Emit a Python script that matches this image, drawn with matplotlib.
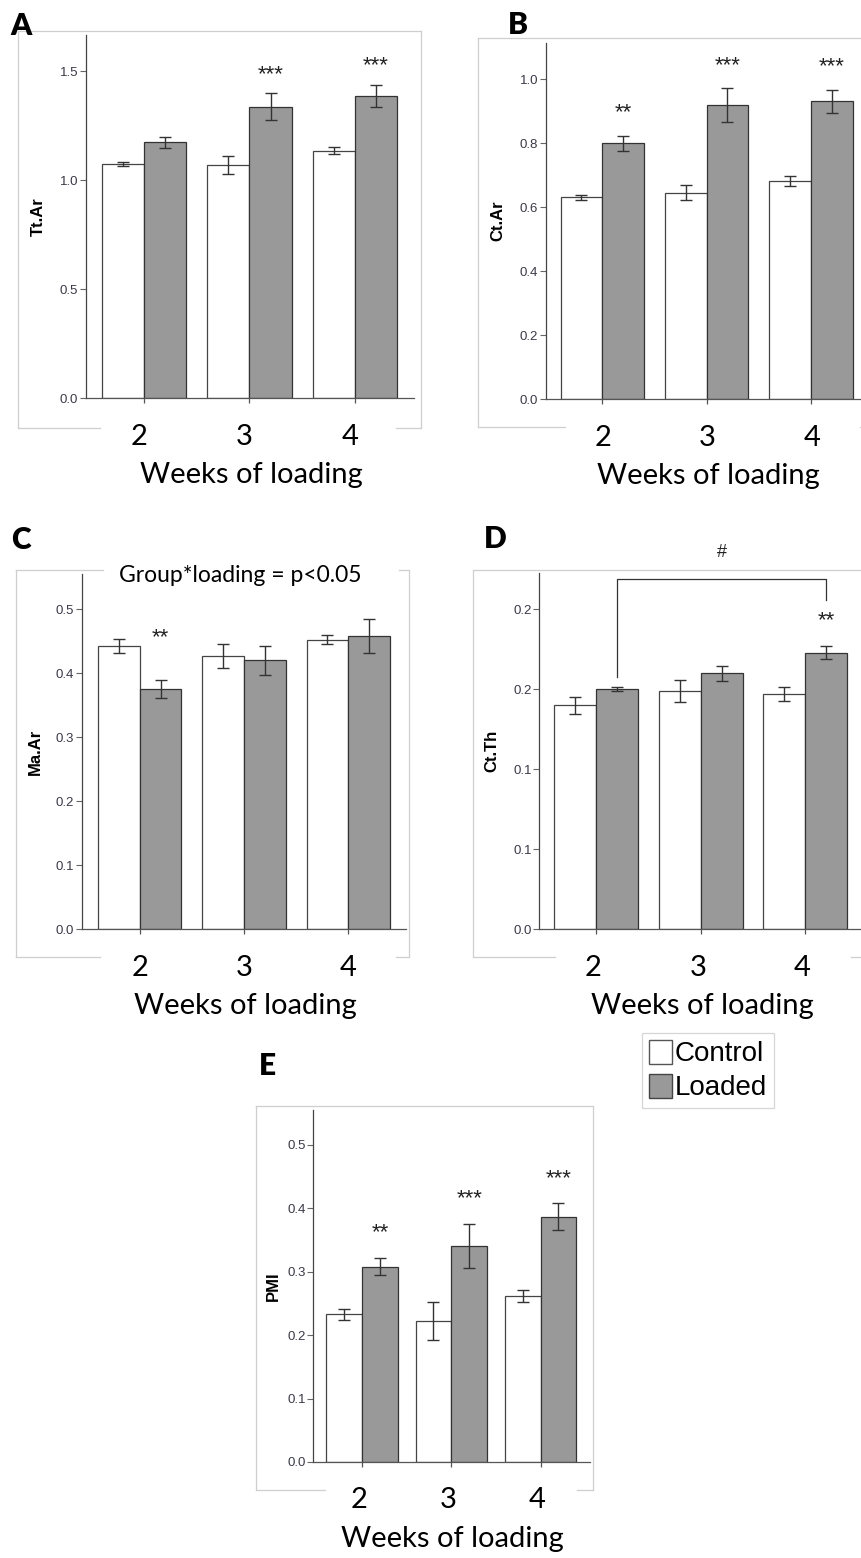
import matplotlib
matplotlib.use("Agg")

import numpy as np
import matplotlib.pyplot as plt
from matplotlib.lines import Line2D
from matplotlib.patches import Patch

W, H = 862, 1558

weeks = ["2", "3", "4"]

# panel A - Tt.Ar
tt_ar_control = [1.075, 1.070, 1.136]
tt_ar_control_err = [0.010, 0.041, 0.017]
tt_ar_loaded = [1.174, 1.338, 1.387]
tt_ar_loaded_err = [0.024, 0.061, 0.052]
tt_ar_stars = ["", "***", "***"]

# panel B - Ct.Ar
ct_ar_control = [0.630, 0.645, 0.682]
ct_ar_control_err = [0.009, 0.024, 0.016]
ct_ar_loaded = [0.799, 0.918, 0.930]
ct_ar_loaded_err = [0.024, 0.053, 0.037]
ct_ar_stars = ["**", "***", "***"]

# panel C - Ma.Ar
ma_ar_control = [0.443, 0.427, 0.452]
ma_ar_control_err = [0.011, 0.019, 0.007]
ma_ar_loaded = [0.376, 0.420, 0.458]
ma_ar_loaded_err = [0.014, 0.023, 0.027]
ma_ar_stars = ["**", "", ""]

# panel D - Ct.Th
ct_th_control = [0.140, 0.149, 0.147]
ct_th_control_err = [0.0052, 0.0071, 0.0042]
ct_th_loaded = [0.150, 0.160, 0.173]
ct_th_loaded_err = [0.0013, 0.0048, 0.0042]
ct_th_stars = ["", "", "**"]

# panel E - PMI
pmi_control = [0.233, 0.223, 0.261]
pmi_control_err = [0.0084, 0.030, 0.0095]
pmi_loaded = [0.308, 0.341, 0.387]
pmi_loaded_err = [0.0137, 0.0347, 0.021]
pmi_stars = ["**", "***", "***"]

BIG = ["Lato", "DejaVu Sans"]
SMALL = ["Liberation Sans", "DejaVu Sans"]
FRAME = "#cfcfcf"
GRAY = "#999999"

fig = plt.figure(figsize=(W / 100, H / 100), dpi=100)


def fx(x):
    return x / W


def fy(y):
    return 1 - y / H


def hline(x0, x1, y):
    fig.add_artist(Line2D([fx(x0), fx(x1)], [fy(y), fy(y)], color=FRAME, lw=0.9))


def vline(x, y0, y1):
    fig.add_artist(Line2D([fx(x), fx(x)], [fy(y0), fy(y1)], color=FRAME, lw=0.9))


def frame(x0, y0, x1, y1, bottom_gap, top_gap=None):
    vline(x0, y0, y1)
    vline(x1, y0, y1)
    if top_gap:
        hline(x0, top_gap[0], y0)
        hline(top_gap[1], x1, y0)
    else:
        hline(x0, x1, y0)
    hline(x0, bottom_gap[0], y1)
    hline(bottom_gap[1], x1, y1)


def panel(box, xc0, sp, ytop_val, ctrl, ctrl_err, load, load_err,
          yticks, yticklabels, ylabel, ylabel_x, stars, star_off, tick_dx):
    x0, x1, ytop, ybot = box
    ax = fig.add_axes([fx(x0), fy(ybot), (x1 - x0) / W, (ybot - ytop) / H])
    ax.set_xlim((x0 - xc0) / sp, (x1 - xc0) / sp)
    ax.set_ylim(0, ytop_val)
    ax.patch.set_alpha(0)
    x = np.arange(len(weeks))
    bw = 0.4
    ax.bar(x - bw / 2, ctrl, bw, color="white", edgecolor="#444444", linewidth=0.9, zorder=2)
    ax.bar(x + bw / 2, load, bw, color=GRAY, edgecolor="#333333", linewidth=0.9, zorder=2)
    ax.errorbar(x - bw / 2, ctrl, yerr=ctrl_err, fmt="none", ecolor="#333333",
                elinewidth=1.0, capsize=4.5, capthick=1.0, zorder=3)
    ax.errorbar(x + bw / 2, load, yerr=load_err, fmt="none", ecolor="#333333",
                elinewidth=1.0, capsize=4.5, capthick=1.0, zorder=3)
    for s in ["top", "right"]:
        ax.spines[s].set_visible(False)
    ax.spines["left"].set_color("#444444")
    ax.spines["bottom"].set_color("#555555")
    ax.spines["left"].set_linewidth(0.9)
    ax.spines["bottom"].set_linewidth(0.9)
    ax.set_yticks(yticks)
    ax.set_yticklabels(yticklabels, fontfamily=SMALL, fontsize=9.5, color="#3a3a48")
    ax.tick_params(axis="y", length=4.3, width=0.8, color="#666666", pad=1.2)
    ax.set_xticks(x)
    ax.set_xticklabels([])
    ax.tick_params(axis="x", length=3.8, width=0.9, color="#555555")
    for i, w in enumerate(weeks):
        ax.annotate(w, (i, 0), xycoords=("data", "axes fraction"),
                    xytext=(tick_dx * 0.72, -38.5 * 0.72), textcoords="offset points",
                    ha="center", va="center", fontfamily=BIG, fontsize=21,
                    annotation_clip=False)
    ax.annotate("Weeks of loading", (1, 0), xycoords=("data", "axes fraction"),
                xytext=(1, -77 * 0.72), textcoords="offset points",
                ha="center", va="center", fontfamily=BIG, fontsize=21,
                annotation_clip=False)
    ax.text((ylabel_x - x0) / (x1 - x0), 0.5, ylabel, transform=ax.transAxes,
            rotation=90, ha="center", va="center", fontfamily=SMALL,
            fontweight="bold", fontsize=12)
    for i, s in enumerate(stars):
        if s:
            top = load[i] + load_err[i]
            if star_off < 5:
                top = max(top, ctrl[i] + ctrl_err[i])
            ax.annotate(s, (i + bw / 2, top), xytext=(0, star_off * 0.72),
                        textcoords="offset points", ha="center", va="center",
                        fontfamily=SMALL, fontsize=16, color="#222222",
                        annotation_clip=False)
    return ax


# panel frames
frame(18, 31, 421, 428, (100, 396))
frame(478, 38, 875, 427, (565, 860))
frame(15.7, 570, 409, 957, (100, 396), top_gap=(103, 399))
frame(472.7, 570, 875, 957.3, (555, 851))
frame(256, 1106, 593.3, 1490, (325, 577))

panel((86, 414, 35, 398.3), 144, 105.5, 1.667,
      tt_ar_control, tt_ar_control_err, tt_ar_loaded, tt_ar_loaded_err,
      [0, 0.5, 1.0, 1.5], ["0.0", "0.5", "1.0", "1.5"], "Tt.Ar", 38.3,
      tt_ar_stars, 19, -5)

panel((545.7, 870, 43, 399), 602.3, 104.3, 1.1125,
      ct_ar_control, ct_ar_control_err, ct_ar_loaded, ct_ar_loaded_err,
      [0, 0.2, 0.4, 0.6, 0.8, 1.0], ["0.0", "0.2", "0.4", "0.6", "0.8", "1.0"],
      "Ct.Ar", 498.3, ct_ar_stars, 23, 1)

axc = panel((82, 406, 574, 929.3), 139.7, 104.3, 0.555,
            ma_ar_control, ma_ar_control_err, ma_ar_loaded, ma_ar_loaded_err,
            [0, 0.1, 0.2, 0.3, 0.4, 0.5], ["0.0", "0.1", "0.2", "0.3", "0.4", "0.5"],
            "Ma.Ar", 35.5, ma_ar_stars, 1, 0)

axd = panel((539.3, 870, 573.3, 929.3), 596.3, 104.5, 0.2225,
            ct_th_control, ct_th_control_err, ct_th_loaded, ct_th_loaded_err,
            [0, 0.05, 0.10, 0.15, 0.20], ["0.0", "0.1", "0.1", "0.2", "0.2"],
            "Ct.Th", 491.7, ct_th_stars, 25, -3)

panel((313.3, 590, 1110, 1462), 362, 89.3, 0.555,
      pmi_control, pmi_control_err, pmi_loaded, pmi_loaded_err,
      [0, 0.1, 0.2, 0.3, 0.4, 0.5], ["0.0", "0.1", "0.2", "0.3", "0.4", "0.5"],
      "PMI", 273.3, pmi_stars, 25, -3)

# bracket in D between week 2 and week 4 loaded bars
axd.plot([0.2, 0.2, 2.2, 2.2], [0.158, 0.219, 0.219, 0.206], color="#333333",
         lw=0.9, clip_on=False)
axd.text(1.2, 0.2355, "#", ha="center", va="center", fontfamily=SMALL,
         fontsize=13, color="#222222")

fig.text(fx(240), fy(575), "Group*loading = p<0.05", ha="center", va="center",
         fontfamily=BIG, fontsize=16.5)

# panel letters
for letter, (lx, ly) in zip("ABCDE", [(21, 26), (517.5, 25), (21, 540),
                                      (495.5, 539), (267.5, 1066)]):
    fig.text(fx(lx), fy(ly), letter, ha="center", va="center",
             fontfamily=BIG, fontweight="heavy", fontsize=21.5)

handles = [Patch(facecolor="white", edgecolor="#555555", linewidth=1.0),
           Patch(facecolor=GRAY, edgecolor="#444444", linewidth=1.0)]
leg = fig.legend(handles, ["Control", "Loaded"], loc="upper left",
                 bbox_to_anchor=(fx(641.7), fy(1033)), borderaxespad=0,
                 frameon=True, fancybox=False, edgecolor="#cccccc",
                 prop={"family": SMALL, "size": 20},
                 handlelength=0.85, handleheight=0.95, handletextpad=0.1,
                 labelspacing=0.22, borderpad=0.25)
leg.get_frame().set_linewidth(0.9)

fig.savefig("out.png", dpi=100)
